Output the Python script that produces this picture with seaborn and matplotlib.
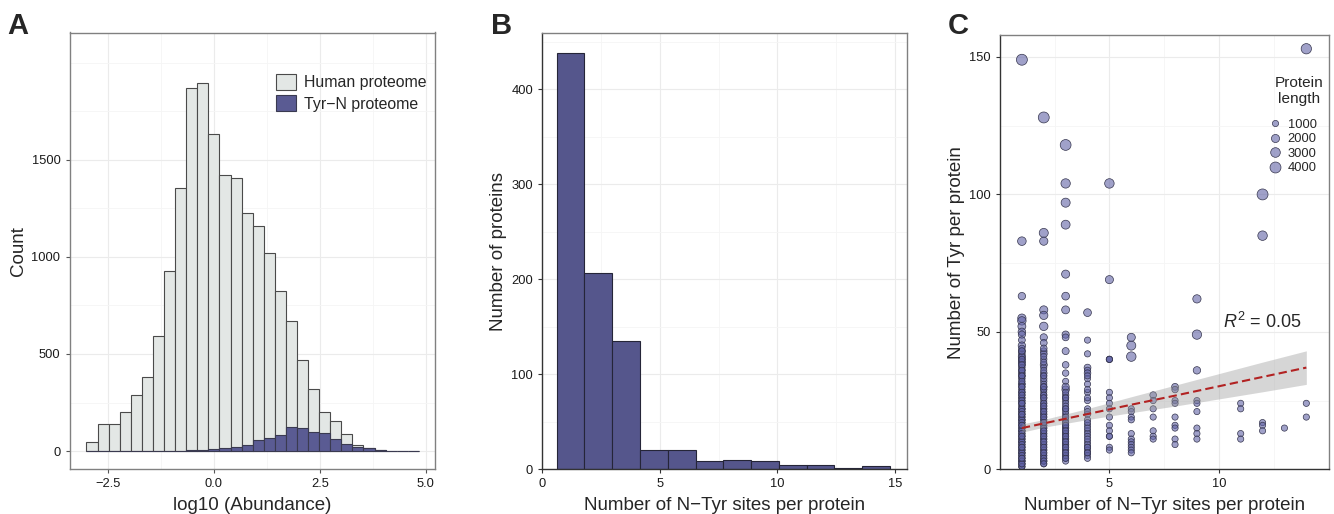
import numpy as np
import pandas as pd
import matplotlib
matplotlib.use("Agg")
import matplotlib.pyplot as plt
from matplotlib.ticker import MultipleLocator, FixedLocator
from matplotlib.patches import Patch
from matplotlib.lines import Line2D
import seaborn as sns

# ---- A: log10 abundance, 30 bins ----
abund_edges = list(np.linspace(-3.01, 4.84, 31))
human_counts = [45, 138, 138, 202, 288, 381, 591, 929, 1355, 1872,
                1897, 1634, 1424, 1409, 1226, 1157, 1022, 822, 671, 469,
                319, 200, 157, 86, 29, 17, 4, 2, 2, 1]
tyrn_counts = [0, 0, 0, 0, 0, 0, 0, 0, 1, 3,
               6, 10, 14, 21, 33, 59, 66, 83, 124, 121,
               100, 91, 64, 34, 19, 17, 3, 2, 1, 0]

# ---- B: N-Tyr sites per protein ----
site_edges = list(np.linspace(0.62, 14.78, 13))
site_counts = [438, 206, 135, 20, 20, 9, 10, 9, 4, 5, 1, 3]

# ---- C: Tyr per protein vs N-Tyr sites (one list per site count) ----
tyr_1 = [149, 83, 63, 55, 54, 52, 50, 49, 47, 45, 43, 42, 41, 40, 40, 39, 38, 37, 36, 35,
         34, 33, 32, 31, 30, 29, 28, 27, 27, 26, 25, 25, 24, 23, 22, 22, 21, 20, 19, 18,
         18, 17, 16, 15, 15, 14, 13, 12, 12, 11, 10, 9, 9, 8, 7, 6, 6, 5, 4, 3, 3, 2, 1, 1,
         44, 41, 39, 37, 35, 33, 31, 29, 28, 26, 24, 23, 21, 20, 19, 17, 16, 14, 13, 11,
         10, 8, 7, 5, 4, 2, 36, 34, 30, 26, 22, 18, 14, 10, 6, 3,
         43, 40, 38, 36, 34, 32, 30, 28, 27, 25, 24, 22, 21, 20, 19, 18, 17, 16, 15, 14,
         13, 12, 11, 10, 9, 8, 7, 6, 5, 4, 3, 2, 1, 2, 4, 8, 12, 16, 20, 24]
len_1 = [5200, 2300, 1600, 2100, 2200, 1900, 1700, 1500, 1300, 1600, 1400, 1200, 1500, 1300, 1100, 1200, 1400, 1000, 1200, 1100,
         1300, 1000, 900, 1200, 1000, 900, 1100, 800, 1000, 900, 800, 1000, 700, 900, 800, 700, 800, 700, 600, 700,
         800, 600, 700, 500, 650, 600, 500, 450, 600, 500, 450, 400, 500, 400, 350, 400, 300, 350, 300, 250, 300, 250, 200, 150,
         1100, 1000, 1300, 900, 1000, 800, 1100, 900, 700, 800, 900, 700, 800, 600, 700, 600, 500, 550, 450, 500,
         400, 450, 350, 400, 300, 250, 1000, 900, 800, 700, 750, 600, 500, 400, 350, 300,
         1200, 1000, 1100, 900, 1000, 800, 900, 800, 750, 700, 800, 650, 700, 600, 650, 550, 600, 500, 550, 500,
         450, 500, 400, 450, 400, 350, 400, 300, 350, 300, 250, 200, 150, 250, 300, 350, 450, 550, 650, 700]
tyr_2 = [128, 86, 83, 58, 56, 52, 48, 46, 43, 42, 40, 38, 37, 35, 34, 32, 31, 30, 29, 28,
         27, 26, 25, 24, 23, 22, 21, 20, 19, 18, 17, 16, 15, 14, 13, 12, 11, 10, 9, 8, 7, 6, 5, 4, 3, 2,
         41, 36, 33, 29, 27, 24, 22, 20, 18, 16, 15, 13, 11, 9, 7, 5, 3,
         44, 39, 34, 30, 26, 23, 21, 19, 17, 14, 12, 10, 8, 6, 4, 3, 2]
len_2 = [4300, 2600, 2100, 2000, 2100, 2200, 1500, 1300, 1200, 1300, 1100, 1400, 1000, 1200, 900, 1100, 1000, 1200, 900, 1000,
         800, 1100, 900, 700, 800, 900, 700, 800, 600, 700, 650, 600, 500, 600, 450, 500, 450, 400, 450, 350, 400, 300, 350, 300, 250, 200,
         1000, 900, 1100, 800, 700, 900, 600, 700, 650, 550, 500, 450, 400, 350, 300, 250, 200,
         1200, 1000, 900, 800, 750, 700, 650, 600, 550, 500, 450, 400, 350, 300, 250, 200, 150]
tyr_3 = [118, 104, 97, 89, 71, 63, 58, 49, 48, 43, 38, 35, 32, 29, 27, 26, 25, 24, 22, 20,
         19, 18, 17, 16, 15, 14, 13, 12, 11, 10, 9, 8, 7, 6, 5, 4, 3,
         30, 28, 23, 21, 17, 15, 13, 11, 9, 7, 5,
         26, 22, 19, 16, 14, 12, 10, 8, 6, 4]
len_3 = [3900, 2800, 2600, 2500, 2000, 1800, 1900, 1500, 1300, 1400, 1200, 1100, 1000, 1600, 1100, 900, 1000, 800, 900, 700,
         800, 750, 600, 700, 600, 550, 500, 450, 500, 400, 450, 350, 400, 300, 350, 250, 300,
         1500, 900, 800, 700, 600, 550, 500, 450, 400, 350, 300,
         800, 700, 650, 600, 500, 450, 400, 350, 300, 250]
tyr_4 = [57, 47, 42, 37, 36, 35, 33, 31, 28, 25, 22, 20, 18, 16, 14, 13, 12, 10, 9, 8, 7, 6, 5, 4,
         34, 29, 26, 21, 17, 15, 11, 8, 6]
len_4 = [1800, 900, 1000, 1300, 1100, 1200, 1000, 900, 1000, 900, 800, 700, 600, 650, 500, 550, 450, 400, 450, 350, 400, 300, 350, 300,
         1000, 900, 800, 700, 600, 550, 450, 400, 350]
tyr_5 = [104, 69, 40, 40, 40, 28, 26, 24, 22, 19, 16, 14, 12, 12, 8, 7]
len_5 = [2900, 2000, 900, 1000, 1100, 700, 650, 600, 700, 550, 500, 450, 400, 500, 350, 300]
tyr_6 = [48, 45, 41, 22, 21, 19, 18, 13, 11, 10, 9, 8, 7, 6]
len_6 = [2000, 2600, 2900, 700, 800, 650, 600, 500, 450, 400, 450, 350, 400, 300]
tyr_7 = [27, 25, 22, 19, 14, 12, 11]
len_7 = [1200, 800, 750, 700, 500, 450, 400]
tyr_8 = [30, 29, 25, 24, 19, 16, 15, 11, 9]
len_8 = [1300, 1100, 900, 800, 700, 600, 550, 500, 450]
tyr_9 = [62, 49, 36, 25, 24, 21, 15, 13, 11]
len_9 = [2100, 2800, 1600, 900, 800, 750, 550, 500, 450]
tyr_11 = [24, 22, 13, 11]
len_11 = [800, 700, 450, 400]
tyr_12 = [100, 85, 17, 16, 14]
len_12 = [4000, 2900, 600, 550, 500]
tyr_13 = [15]
len_13 = [500]
tyr_14 = [153, 24, 19]
len_14 = [3500, 800, 600]

# linear fit and 95% band
fit_x = [1, 2, 4, 6, 8, 10, 12, 14]
fit_y = [15.0, 16.7, 20.1, 23.5, 26.8, 30.2, 33.6, 37.0]
fit_lo = [13.5, 15.3, 18.1, 20.6, 23.0, 25.6, 28.2, 30.9]
fit_hi = [16.5, 18.1, 22.1, 26.4, 30.6, 34.8, 39.0, 43.1]
legend_lengths = [1000, 2000, 3000, 4000]

cols = [(1, tyr_1, len_1), (2, tyr_2, len_2), (3, tyr_3, len_3), (4, tyr_4, len_4),
        (5, tyr_5, len_5), (6, tyr_6, len_6), (7, tyr_7, len_7), (8, tyr_8, len_8),
        (9, tyr_9, len_9), (11, tyr_11, len_11), (12, tyr_12, len_12),
        (13, tyr_13, len_13), (14, tyr_14, len_14)]
df_c = pd.concat([pd.DataFrame({"sites": s, "tyr": t, "length": l}) for s, t, l in cols],
                 ignore_index=True)

sns.set_style("white")
plt.rcParams["font.family"] = ["Liberation Sans", "DejaVu Sans"]
plt.rcParams["mathtext.fontset"] = "custom"
plt.rcParams["mathtext.rm"] = "Liberation Sans"
plt.rcParams["mathtext.it"] = "Liberation Sans:italic"

PURPLE = "#55568c"
fig = plt.figure(figsize=(13.34, 5.14), dpi=100)
W, H = 1334, 514


def px_axes(left, top, right, bottom):
    return fig.add_axes([left / W, 1 - bottom / H, (right - left) / W, (bottom - top) / H])


def style(ax, xmaj, xmin, ymaj, ymin, box_gray):
    ax.xaxis.set_major_locator(xmaj)
    ax.xaxis.set_minor_locator(xmin)
    ax.yaxis.set_major_locator(ymaj)
    ax.yaxis.set_minor_locator(ymin)
    ax.grid(which="major", color="#ebebeb", lw=0.8)
    ax.grid(which="minor", color="#f5f5f5", lw=0.6)
    ax.set_axisbelow(True)
    for name, sp in ax.spines.items():
        sp.set_visible(True)
        sp.set_linewidth(1.0)
        if box_gray or name in ("top", "right"):
            sp.set_color("#808080")
        else:
            sp.set_color("#333333")
    ax.tick_params(which="major", bottom=True, left=True, length=3, width=0.8, pad=3.5,
                   labelsize=9.3, color="#555555" if box_gray else "#333333",
                   labelcolor="#1a1a1a")
    ax.tick_params(which="minor", bottom=False, left=False, length=0)


# ---- Panel A ----
axA = px_axes(69.5, 32.5, 435, 469.3)
centers = [(a + b) / 2 for a, b in zip(abund_edges[:-1], abund_edges[1:])]
sns.histplot(x=centers, weights=human_counts, bins=abund_edges, color="#e3e7e5",
             edgecolor="#4a4a4a", linewidth=0.8, alpha=1, ax=axA)
sns.histplot(x=centers, weights=tyrn_counts, bins=abund_edges, color="#5a5b93",
             edgecolor="#3a3a50", linewidth=0.8, alpha=1, ax=axA)
axA.set_xlim(-3.41, 5.22)
axA.set_ylim(-94, 2156)
style(axA, MultipleLocator(2.5), MultipleLocator(1.25),
      FixedLocator([0, 500, 1000, 1500]), FixedLocator([250, 750, 1250, 1750, 2000]), True)
axA.set_xlabel("log10 (Abundance)", fontsize=13.5, labelpad=5)
axA.set_ylabel("Count", fontsize=13.5, labelpad=3)
handles = [Patch(facecolor="#e3e7e5", edgecolor="#4a4a4a", lw=0.8, label="Human proteome"),
           Patch(facecolor="#5a5b93", edgecolor="#3a3a50", lw=0.8, label="Tyr\u2212N proteome")]
fig.legend(handles=handles, loc="upper left", bbox_to_anchor=(268 / W, 1 - 66 / H),
           frameon=False, fontsize=11.4, borderpad=0, handlelength=1.27, handleheight=1.2,
           handletextpad=0.5, labelspacing=0.3)

# ---- Panel B ----
axB = px_axes(542, 33, 907, 469.3)
site_centers = [(a + b) / 2 for a, b in zip(site_edges[:-1], site_edges[1:])]
sns.histplot(x=site_centers, weights=site_counts, bins=site_edges, color=PURPLE,
             edgecolor="#252538", linewidth=0.8, alpha=1, ax=axB)
axB.set_xlim(0, 15.5)
axB.set_ylim(0, 459)
style(axB, FixedLocator([0, 5, 10, 15]), FixedLocator([2.5, 7.5, 12.5]),
      FixedLocator([0, 100, 200, 300, 400]), FixedLocator([50, 150, 250, 350, 450]), False)
axB.set_xlabel("Number of N\u2212Tyr sites per protein", fontsize=13.5, labelpad=5)
axB.set_ylabel("Number of proteins", fontsize=13.5, labelpad=3)

# ---- Panel C ----
axC = px_axes(1000, 35, 1329.3, 469.3)
s_lo, s_hi = 20, 62
face = (0.38, 0.39, 0.65, 0.6)
edge = "#35354d"
sns.scatterplot(data=df_c, x="sites", y="tyr", size="length", sizes=(s_lo, s_hi),
                size_norm=(1000, 4000), facecolor=face, edgecolor=edge,
                linewidth=0.5, legend=False, ax=axC, zorder=2)
axC.fill_between(fit_x, fit_lo, fit_hi, color="#9a9a9a", alpha=0.4, lw=0, zorder=3)
sns.lineplot(x=fit_x, y=fit_y, color="#b22222", linewidth=1.5, linestyle=(0, (4, 2)),
             ax=axC, zorder=4)
axC.text(12.0, 53.7, r"$R^2$ = 0.05", ha="center", va="center", fontsize=13, zorder=5)
axC.set_xlim(0, 15.05)
axC.set_ylim(0, 158)
style(axC, FixedLocator([5, 10]), FixedLocator([2.5, 7.5, 12.5]),
      FixedLocator([0, 50, 100, 150]), FixedLocator([25, 75, 125]), False)
axC.set_xlabel("Number of N\u2212Tyr sites per protein", fontsize=13.5, labelpad=5)
axC.set_ylabel("Number of Tyr per protein", fontsize=13.5, labelpad=3)

# size legend: title as centred text, entries as a frameless legend
fig.text(1299 / W, 1 - 91 / H, "Protein\nlength", ha="center", va="center",
         multialignment="center", fontsize=11.1, linespacing=1.25)
leg_handles = []
for L in legend_lengths:
    s = s_lo + (L - 1000) / 3000 * (s_hi - s_lo)
    leg_handles.append(Line2D([], [], ls="", marker="o", markersize=np.sqrt(s),
                              markerfacecolor=face, markeredgecolor=edge,
                              markeredgewidth=0.5, label=str(L)))
fig.legend(handles=leg_handles, loc="upper right", bbox_to_anchor=(1323 / W, 1 - 112 / H),
           frameon=False, fontsize=9.3, borderpad=0, handlelength=1.0, handletextpad=0.45,
           labelspacing=0.2)

# ---- panel letters ----
for x, letter in [(7, "A"), (491, "B"), (948, "C")]:
    fig.text(x / W, 1 - 12 / H, letter, fontsize=21, fontweight="bold", va="top", ha="left")

fig.savefig("out.png", dpi=100)
